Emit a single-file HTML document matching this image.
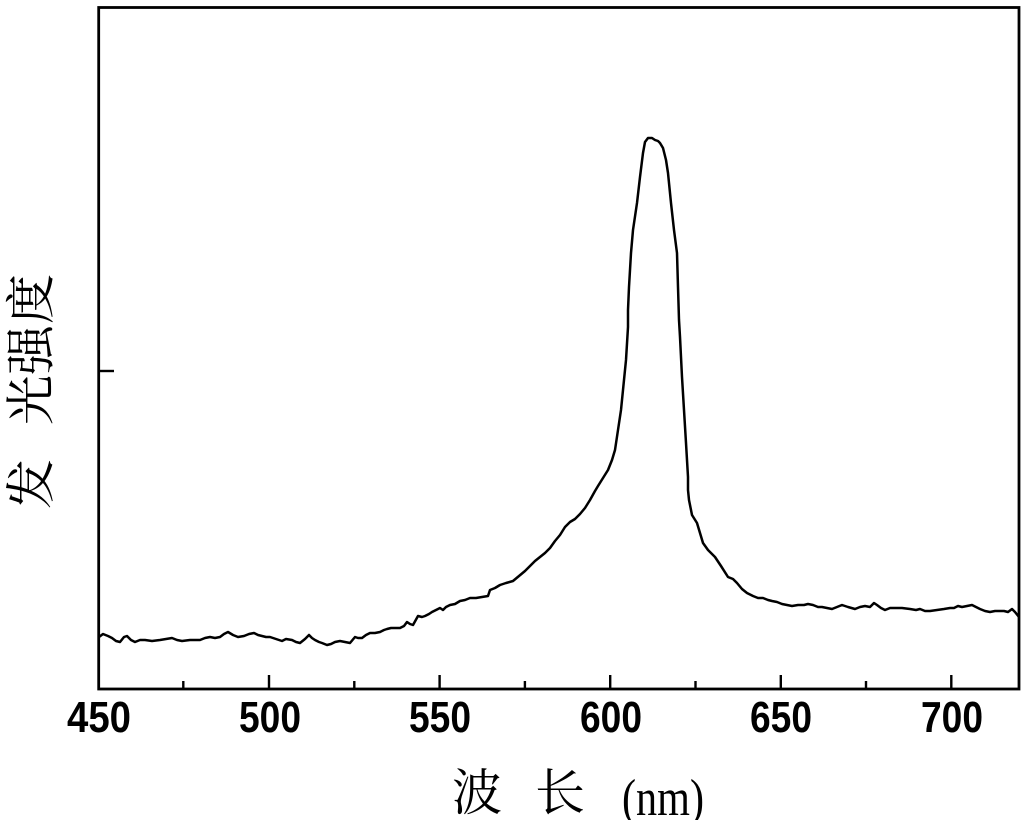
<!DOCTYPE html>
<html>
<head>
<meta charset="utf-8">
<style>
html,body{margin:0;padding:0;background:#fff;}
svg{display:block;}
</style>
</head>
<body>
<svg width="1030" height="820" viewBox="0 0 1030 820" xmlns="http://www.w3.org/2000/svg">
<rect x="0" y="0" width="1030" height="820" fill="#fff"/>
<!-- frame -->
<rect x="98.7" y="7.5" width="920.3" height="681.5" fill="none" stroke="#000" stroke-width="2.8"/>
<!-- x ticks -->
<g stroke="#000" stroke-width="2.4">
<line x1="98.7" y1="675" x2="98.7" y2="689"/>
<line x1="183.3" y1="681" x2="183.3" y2="689"/>
<line x1="269" y1="675" x2="269" y2="689"/>
<line x1="354.3" y1="681" x2="354.3" y2="689"/>
<line x1="439.6" y1="675" x2="439.6" y2="689"/>
<line x1="524.9" y1="681" x2="524.9" y2="689"/>
<line x1="610.2" y1="675" x2="610.2" y2="689"/>
<line x1="695.5" y1="681" x2="695.5" y2="689"/>
<line x1="780.8" y1="675" x2="780.8" y2="689"/>
<line x1="866" y1="681" x2="866" y2="689"/>
<line x1="951.3" y1="675" x2="951.3" y2="689"/>
<!-- y tick -->
<line x1="98" y1="371" x2="114" y2="371"/>
</g>
<!-- tick labels -->
<g font-family="'Liberation Sans', Arial, sans-serif" font-weight="bold" font-size="44" text-anchor="middle" fill="#000">
<text x="99" y="732" textLength="64" lengthAdjust="spacingAndGlyphs">450</text>
<text x="270" y="732" textLength="62" lengthAdjust="spacingAndGlyphs">500</text>
<text x="440" y="732" textLength="62" lengthAdjust="spacingAndGlyphs">550</text>
<text x="611" y="732" textLength="62" lengthAdjust="spacingAndGlyphs">600</text>
<text x="781" y="732" textLength="62" lengthAdjust="spacingAndGlyphs">650</text>
<text x="952" y="732" textLength="62" lengthAdjust="spacingAndGlyphs">700</text>
</g>
<!-- x label -->
<g font-family="'Liberation Serif', 'Noto Serif CJK SC', serif" font-size="50" fill="#000">
<text x="477" y="810" text-anchor="middle" font-family="'Noto Serif CJK SC', 'Noto Sans CJK SC', serif">波</text>
<text x="560" y="810" text-anchor="middle" font-family="'Noto Serif CJK SC', 'Noto Sans CJK SC', serif">长</text>
<text x="622" y="815" font-size="52" textLength="82" lengthAdjust="spacingAndGlyphs">(nm)</text>
</g>
<!-- y label -->
<g font-family="'Noto Serif CJK SC', 'Noto Sans CJK SC', serif" font-size="50" fill="#000" text-anchor="middle" dominant-baseline="central">
<text x="27.5" y="484" transform="rotate(-90 27.5 484)">发</text>
<text x="27.5" y="400" transform="rotate(-90 27.5 400)">光</text>
<text x="27.5" y="350" transform="rotate(-90 27.5 350)">强</text>
<text x="27.5" y="299" transform="rotate(-90 27.5 299)">度</text>
</g>
<!-- spectrum -->
<polyline fill="none" stroke="#000" stroke-width="2.5" stroke-linejoin="round" points="
99,637 103,634 108,636 112,638 116,641 120,642 124,637 127,636 131,640 135,642 140,640 145,640 152,641 160,640 166,639 172,638 177,640 182,641 190,640 200,640 205,638 210,637 215,638 220,637 224,634 228,632 233,635 238,637 244,636 249,634 254,633 258,635 262,636 266,637 270,637 276,639 282,641 286,639 292,640 296,642 300,643 305,639 309,635 312,638 315,640 319,642 322,643 327,645 331,644 335,642 340,641 345,642 350,643 355,637 358,638 362,638 366,635 370,633 375,633 380,632 384,630 387,629 391,628 395,628 400,628 404,626 407,622 410,624 413,625 418,616 422,617 425,616 429,614 432,612 436,610 440,608 443,610 446,607 450,605 455,604 460,601 465,600 470,598 476,598 482,597 488,596 490,590 495,588 500,585 506,583 513,581 519,576 525,571 530,566 535,561 540,557 545,553 550,548 555,541 560,535 565,527 570,522 575,519 580,514 585,508 590,500 595,491 598,486 603,478 608,470 612,460 615,450 618,430 621,410 623,390 626,360 628,327 628,310 629,287 631,253 633,230 637,203 640,177 643,153 645,142 648,138 652,138 655,140 658,141 660,143 663,148 666,160 668,173 671,203 674,230 677,253 678,287 679,320 680,337 682,377 684,410 686,443 688,477 688,490 689,500 692,515 697,523 703,543 708,550 715,557 721,566 728,577 733,579 737,583 742,589 747,593 753,596 758,598 763,598 768,600 772,601 777,602 782,604 787,605 792,606 798,605 804,605 808,604 813,605 818,607 822,607 827,608 832,609 837,607 842,605 848,607 855,609 860,607 865,606 870,607 874,603 877,605 881,608 885,610 890,608 895,608 902,608 910,609 916,610 920,609 925,611 930,611 937,610 944,609 950,608 954,608 958,606 962,607 967,606 972,605 976,607 980,609 985,611 990,612 995,611 1000,611 1004,611 1008,612 1012,609 1015,612 1019,617"/>
</svg>
</body>
</html>
